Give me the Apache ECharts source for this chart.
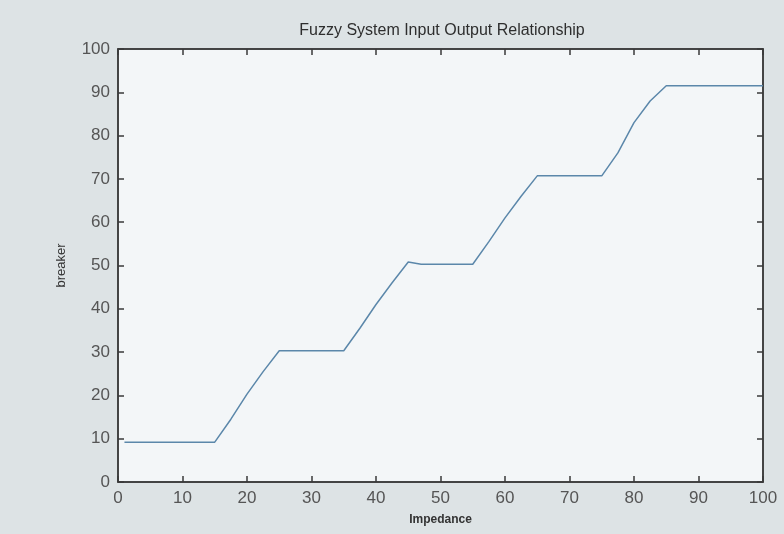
<!DOCTYPE html>
<html>
<head>
<meta charset="utf-8">
<script src="https://cdn.jsdelivr.net/npm/echarts@6/dist/echarts.min.js"></script>
<style>
html,body{margin:0;padding:0;background:#dde3e5;}
#chart{width:784px;height:534px;}
</style>
</head>
<body>
<div id="chart"></div>
<script>
var impedance = [1, 15, 17.5, 20, 22.5, 25, 35, 37.5, 40, 42.5, 45, 47, 55, 57.5, 60, 62.5, 65, 75, 77.5, 80, 82.5, 85, 100];
var breaker   = [9.2, 9.2, 14.5, 20.3, 25.5, 30.3, 30.3, 35.5, 41, 46, 50.8, 50.3, 50.3, 55.5, 61, 66, 70.7, 70.7, 76, 83, 88, 91.5, 91.5];
var xTicks = [0, 10, 20, 30, 40, 50, 60, 70, 80, 90, 100];
var yTicks = [0, 10, 20, 30, 40, 50, 60, 70, 80, 90, 100];

var chart = echarts.init(document.getElementById('chart'));
var pts = [];
for (var i = 0; i < impedance.length; i++) {
  pts.push([impedance[i], breaker[i]]);
}
function boxLine() { return {show: true, onZero: false, lineStyle: {color: '#3a3a3a', width: 1.5}}; }
function inTick() { return {show: true, inside: true, length: 6, lineStyle: {color: '#3a3a3a', width: 1.5}}; }
function tickFont(list) {
  return {show: true, margin: 8, color: '#555', fontSize: 17,
    fontFamily: 'Liberation Sans Narrow, Liberation Sans, sans-serif',
    formatter: function (v) { return list.indexOf(v) >= 0 ? v : ''; }};
}

chart.setOption({
  backgroundColor: '#dde3e5',
  title: {
    text: 'Fuzzy System Input Output Relationship',
    left: 437, top: 18, textAlign: 'center',
    textStyle: {color: '#2e2e2e', fontSize: 16, fontWeight: 'normal', fontFamily: 'Liberation Sans, sans-serif'}
  },
  grid: {left: 118, right: 21, top: 49, bottom: 52, show: true, backgroundColor: '#f3f6f8',
    borderWidth: 1.5, borderColor: '#3a3a3a'},
  xAxis: [{
    type: 'value', min: 0, max: 100, interval: 10, position: 'bottom',
    name: 'Impedance', nameLocation: 'middle', nameGap: 32,
    nameTextStyle: {color: '#333', fontSize: 12, fontWeight: 'bold', fontFamily: 'Liberation Sans Narrow, sans-serif'},
    axisLine: boxLine(), axisTick: inTick(), splitLine: {show: false},
    axisLabel: tickFont(xTicks)
  }, {
    type: 'value', min: 0, max: 100, interval: 10, position: 'top', show: true,
    axisLine: boxLine(), axisTick: inTick(), axisLabel: {show: false}, splitLine: {show: false}
  }],
  yAxis: [{
    type: 'value', min: 0, max: 100, interval: 10, position: 'left',
    name: 'breaker', nameLocation: 'middle', nameGap: 50, nameRotate: 90,
    nameTextStyle: {color: '#333', fontSize: 13, fontFamily: 'Liberation Sans Narrow, sans-serif'},
    axisLine: boxLine(), axisTick: inTick(), splitLine: {show: false},
    axisLabel: tickFont(yTicks)
  }, {
    type: 'value', min: 0, max: 100, interval: 10, position: 'right', show: true,
    axisLine: boxLine(), axisTick: inTick(), axisLabel: {show: false}, splitLine: {show: false}
  }],
  series: [{
    type: 'line',
    data: pts,
    showSymbol: false,
    lineStyle: {color: '#5b87aa', width: 1.5},
    animation: false
  }]
});
</script>
</body>
</html>
